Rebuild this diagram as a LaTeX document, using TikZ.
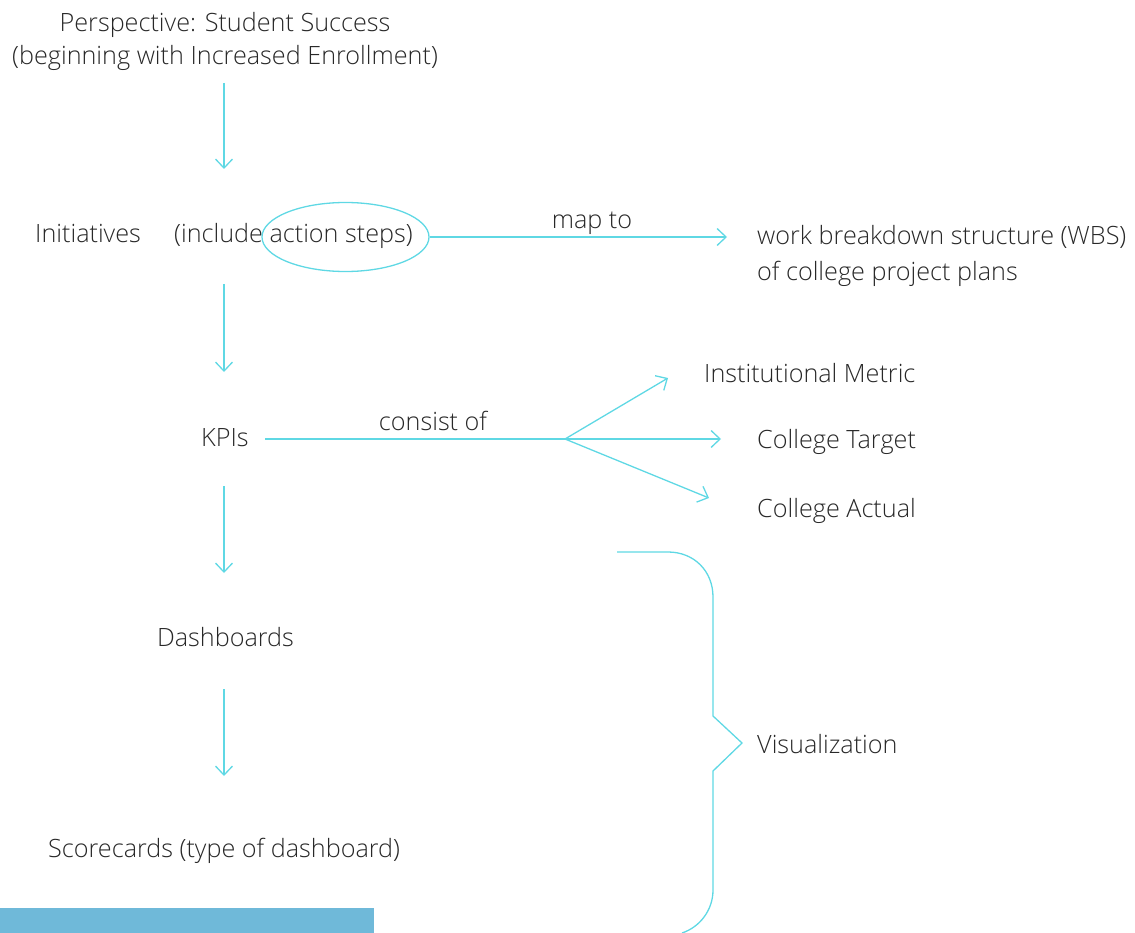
\documentclass[tikz,border=0pt]{standalone}
\usepackage{fontspec}
\setmainfont{Open Sans}[UprightFont={* Light}]
\usetikzlibrary{arrows.meta,shapes.geometric}
\definecolor{cyanline}{RGB}{95,216,228}
\definecolor{txt}{RGB}{40,40,40}
\definecolor{barblue}{RGB}{111,185,217}
\begin{document}
\begin{tikzpicture}[x=1pt,y=-1pt,
  lbl/.style={inner sep=0pt, text=txt, font=\fontsize{25.2}{33}\selectfont},
  wire/.style={draw=cyanline, line width=1.3pt},
  conn/.style={wire, -{Straight Barb[length=9pt,width=17pt,line width=1.3pt]}}]
\useasboundingbox (0,0) rectangle (1135,933);

% title
\node[lbl,anchor=base] (t1) at (225,32) {Perspective: Student Success};
\node[lbl,anchor=base] (t2) at (225,65) {(beginning with Increased Enrollment)};

% initiatives row
\node[lbl,anchor=base west] (init) at (35,243) {Initiatives};
\node[lbl,anchor=base west] (incl) at (174,243) {(include action steps)};
\node[ellipse, draw=cyanline, line width=1.3pt, inner sep=0pt,
      minimum width=167pt, minimum height=69pt] (oval) at (345.5,237) {};
\node[lbl,anchor=base] (mapto) at (592,229) {map to};
\node[lbl,anchor=base west] (wbs1) at (757,245) {work breakdown structure (WBS)};
\node[lbl,anchor=base west] (wbs2) at (757,281) {of college project plans};
\coordinate (wbsin) at (727,237);
\draw[conn] (oval.east) -- (wbsin);

% KPIs row
\node[lbl,anchor=base west] (kpi) at (201,446) {KPIs};
\node[lbl,anchor=base] (consist) at (433,430) {consist of};
\coordinate (kpiout) at (265,439);
\coordinate (junc) at (565,439);
\draw[wire] (kpiout) -- (junc);
\node[lbl,anchor=base west] (inst) at (704,382) {Institutional Metric};
\node[lbl,anchor=base west] (target) at (757,448) {College Target};
\node[lbl,anchor=base west] (actual) at (757,517) {College Actual};
\coordinate (instin) at (668,378);
\coordinate (targetin) at (721,439);
\coordinate (actualin) at (709,498);
\draw[conn] (junc) -- (instin);
\draw[conn] (junc) -- (targetin);
\draw[conn] (junc) -- (actualin);

% lower column
\node[lbl,anchor=base] (dash) at (225.5,646) {Dashboards};
\node[lbl,anchor=base west] (score) at (48,857) {Scorecards (type of dashboard)};

% vertical arrows
\coordinate (a1s) at (224,83);  \coordinate (a1e) at (224,169);
\coordinate (a2s) at (224,284); \coordinate (a2e) at (224,372);
\coordinate (a3s) at (224,486); \coordinate (a3e) at (224,573);
\coordinate (a4s) at (224,689); \coordinate (a4e) at (224,776);
\draw[conn] (a1s) -- (a1e);
\draw[conn] (a2s) -- (a2e);
\draw[conn] (a3s) -- (a3e);
\draw[conn] (a4s) -- (a4e);

% brace
\node[lbl,anchor=base west] (vis) at (757,753) {Visualization};
\coordinate (bstart) at (617,552);
\coordinate (bend) at (682,933);
\draw[wire] (bstart) -- (668,552)
  .. controls (694,552) and (713,571) .. (713,597)
  -- (713,716) -- (742,743) -- (713,771) -- (713,890)
  .. controls (713,910) and (700,927) .. (bend);

% bottom bar
\fill[barblue] (0,908) rectangle (374,933);
\end{tikzpicture}
\end{document}
